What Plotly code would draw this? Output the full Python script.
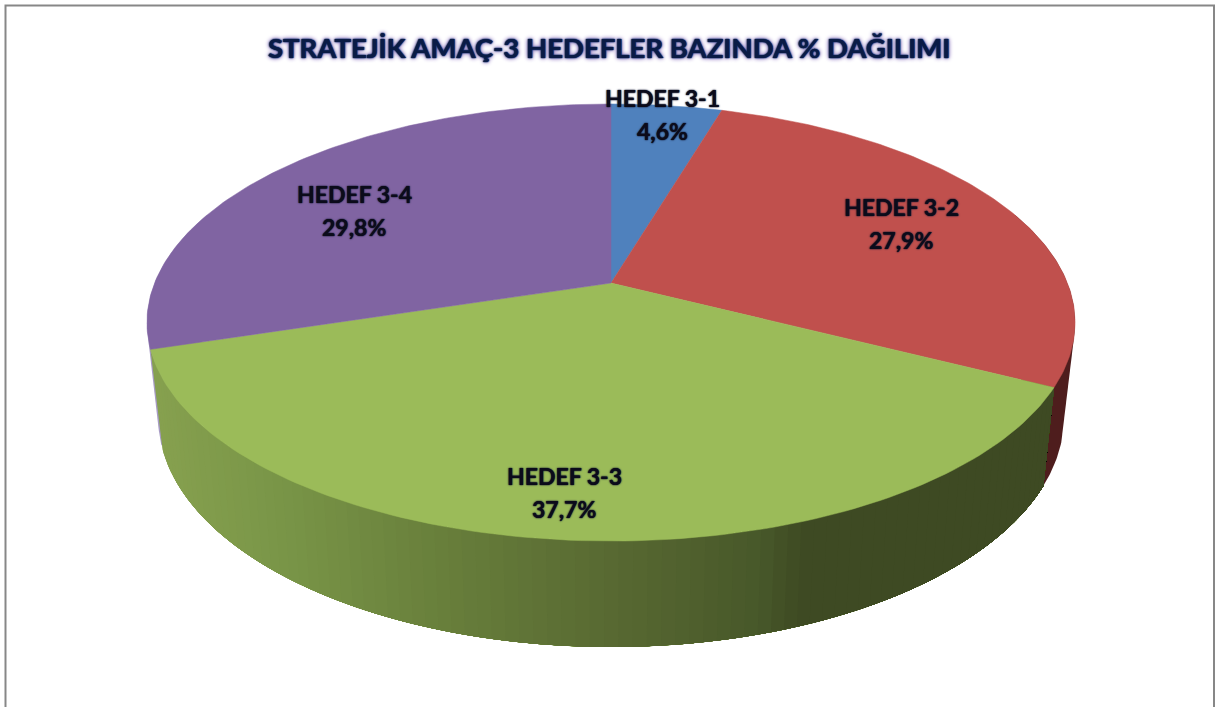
import numpy as np
import plotly.graph_objects as go

# --- data ---
categories = ["HEDEF 3-1", "HEDEF 3-2", "HEDEF 3-3", "HEDEF 3-4"]
shares = [4.6, 27.9, 37.7, 29.8]
share_labels = ["4,6%", "27,9%", "37,7%", "29,8%"]
title_text = "STRATEJİK AMAÇ-3 HEDEFLER BAZINDA % DAĞILIMI"

# --- styling ---
top_colors = ["#4F81BD", "#C0504D", "#9BBB59", "#8064A2"]
red_wall, purple_wall = "#4E1D1D", "#A79BC4"
green_stops_x = [150, 284, 440, 615, 760, 800, 1060]
green_stops_rgb = [(136, 162, 80), (122, 150, 72), (105, 128, 60),
                   (88, 105, 50), (72, 88, 42), (62, 74, 35), (62, 74, 35)]
label_xy = [(662, 98, 131), (901, 207, 240), (564, 476, 509), (354, 194, 227)]
FONT = "Lato, Carlito, 'Open Sans', sans-serif"

# projection of the tilted disc onto the canvas
CX, CY, AX, BY, K = 611.0, 283.0, 456.4, 211.4, 0.1808
DROP, SX, SY = 93.0, 0.976, 1.05


def rim(deg):
    t = np.radians(np.asarray(deg, dtype=float))
    X, Y = np.sin(t), -np.cos(t)
    d = 1 - K * Y
    return AX * X / d, BY * Y / d


def top_xy(deg):
    x, y = rim(deg)
    return CX + x, CY + y


def bottom_xy(deg):
    x, y = rim(deg)
    return CX + SX * x, CY + DROP + SY * y


def convex_hull(points):
    pts = sorted(set(points))

    def half(seq):
        out = []
        for p in seq:
            while len(out) >= 2 and ((out[-1][0] - out[-2][0]) * (p[1] - out[-2][1])
                                     - (out[-1][1] - out[-2][1]) * (p[0] - out[-2][0])) <= 0:
                out.pop()
            out.append(p)
        return out[:-1]

    return half(pts) + half(pts[::-1])


cum = np.concatenate([[0], np.cumsum(shares)]) / sum(shares) * 360
fig = go.Figure()


def wall_polygon(a0, a1):
    arc = np.linspace(a0, a1, max(int(abs(a1 - a0)) + 2, 2))
    xt, yt = top_xy(arc)
    xb, yb = bottom_xy(arc[::-1])
    return list(xt) + list(xb) + [xt[0]], list(yt) + list(yb) + [yt[0]]


def add_flank(a_start, a_end, col):
    # the visible flank is the hull of the two rims; the top face and green wall cover the rest
    arc = np.linspace(a_start, a_end, 90)
    xt, yt = top_xy(arc)
    xb, yb = bottom_xy(arc)
    hull = convex_hull(list(zip(xt.tolist(), yt.tolist())) + list(zip(xb.tolist(), yb.tolist())))
    hull.append(hull[0])
    fig.add_trace(go.Scatter(
        x=[p[0] for p in hull], y=[p[1] for p in hull], mode="lines", fill="toself",
        fillcolor=col, line=dict(width=0), hoverinfo="skip", showlegend=False))


add_flank(70, cum[2], red_wall)
add_flank(cum[3], 290, purple_wall)

# green wall: nested bands painted left to right, so no seams appear between them
g0, g1 = cum[2], cum[3]
for a in np.arange(g1, g0, -1.5):
    xb, _ = bottom_xy(a - 0.75)
    rgb = [np.interp(xb, green_stops_x, [c[i] for c in green_stops_rgb]) for i in range(3)]
    col = "rgb(%d,%d,%d)" % tuple(rgb)
    px, py = wall_polygon(g0, a)
    fig.add_trace(go.Scatter(
        x=px, y=py, mode="lines", fill="toself", fillcolor=col,
        line=dict(width=0), hoverinfo="skip", showlegend=False))

# top face, one sector per category
for i, name in enumerate(categories):
    arc = np.linspace(cum[i], cum[i + 1], 120)
    xa, ya = top_xy(arc)
    fig.add_trace(go.Scatter(
        x=[CX] + list(xa) + [CX], y=[CY] + list(ya) + [CY],
        mode="lines", fill="toself", fillcolor=top_colors[i],
        line=dict(color=top_colors[i], width=0.5),
        name=name, text=share_labels[i], hoverinfo="name+text", showlegend=False))

annotations = [dict(
    x=609, y=47, xref="x", yref="y", text=f"<b>{title_text}</b>", showarrow=False,
    font=dict(family=FONT, size=27.5, color="#0A1B45",
              shadow="0 0 1px #0F2A66, 0 0 1px #0F2A66, 0 0 2px #0F2A66, 0 0 4px #9C86C8, 0 0 5px #9C86C8"))]
for name, val, (lx, y1, y2) in zip(categories, share_labels, label_xy):
    for txt, ly in ((name, y1), (val, y2)):
        annotations.append(dict(
            x=lx, y=ly, xref="x", yref="y", text=f"<b>{txt}</b>", showarrow=False,
            font=dict(family=FONT, size=23, color="#0B0B1A",
                      shadow="0 0 1px #0B0B1A, 0 0 2px #1A2040")))

fig.update_layout(
    width=1215, height=707, autosize=False,
    margin=dict(l=0, r=0, t=0, b=0),
    paper_bgcolor="white", plot_bgcolor="white", showlegend=False,
    xaxis=dict(range=[0, 1215], visible=False, fixedrange=True),
    yaxis=dict(range=[707, 0], visible=False, fixedrange=True),
    annotations=annotations,
    shapes=[dict(type="rect", xref="x", yref="y", x0=5.5, x1=1214, y0=5.5, y1=730,
                 line=dict(color="#878787", width=2), layer="below")],
)
fig.write_html("out.html", config={"displayModeBar": False},
               post_script="document.body.style.margin='0';document.body.style.overflow='hidden';")
